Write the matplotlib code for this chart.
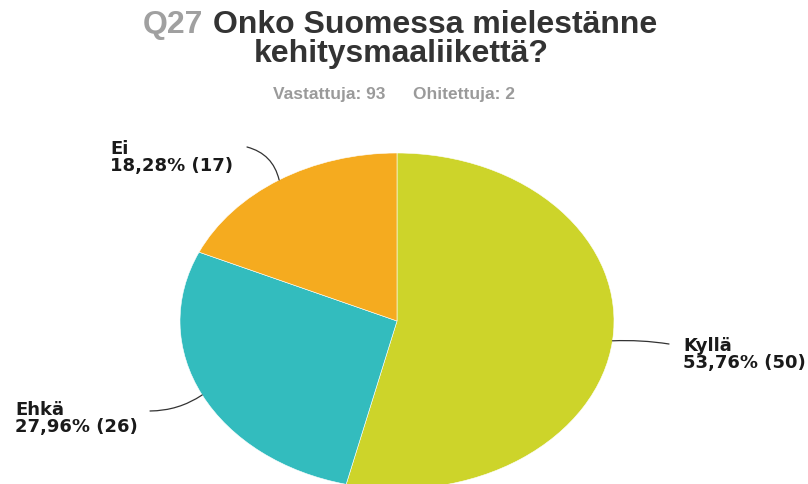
import matplotlib
matplotlib.use("Agg")
import matplotlib.pyplot as plt
import numpy as np

# survey answers
labels = ["Kyllä", "Ehkä", "Ei"]
counts = [50, 26, 17]
percents = ["53,76%", "27,96%", "18,28%"]
colors = ["#cdd42a", "#33bcbe", "#f5ab1f"]
answered = 93
skipped = 2

W, H = 808, 485
fig = plt.figure(figsize=(W / 100, H / 100), dpi=100)
ax = fig.add_axes([0, 0, 1, 1])

# pie is drawn stretched (ellipse) like the original
cx, cy, rx, ry = 397, 322, 217, 168

wedges, _ = ax.pie(
    counts,
    colors=colors,
    startangle=90,
    counterclock=False,
    wedgeprops=dict(edgecolor="white", linewidth=0.4),
)
ax.set_aspect("auto")
ax.set_xlim(-cx / rx, (W - cx) / rx)
ax.set_ylim(-(H - cy) / ry, cy / ry)
ax.axis("off")


def to_data(px, py):
    return (px - cx) / rx, (cy - py) / ry


def fx(px):
    return px / W


def fy(py):
    return 1 - py / H


# leader line ends and label boxes (pixel positions)
line_ends = [(669, 345), (150, 412), (247, 148)]
line_rads = [0.05, 0.15, -0.3]
text_pos = [(683, 337), (15, 401), (110, 140)]

for w, lab, pct, n, end, rad, tp in zip(
    wedges, labels, percents, counts, line_ends, line_rads, text_pos
):
    ang = np.deg2rad((w.theta1 + w.theta2) / 2)
    edge = (np.cos(ang), np.sin(ang))
    ax.annotate(
        "",
        xy=edge,
        xytext=to_data(*end),
        arrowprops=dict(
            arrowstyle="-",
            color="#333333",
            lw=0.9,
            shrinkA=0,
            shrinkB=0,
            connectionstyle=f"arc3,rad={rad}",
        ),
    )
    fig.text(
        fx(tp[0]),
        fy(tp[1]),
        f"{lab}\n{pct} ({n})",
        ha="left",
        va="top",
        fontsize=13,
        fontweight="bold",
        family="DejaVu Sans",
        color="#1a1a1a",
        linespacing=0.92,
    )

# title
title_font = dict(family="Liberation Sans", fontweight="bold", fontsize=23)
fig.text(fx(143), fy(33), "Q27", color="#a0a0a0", ha="left", va="baseline", **title_font)
fig.text(fx(213), fy(33), "Onko Suomessa mielestänne", color="#333333",
         ha="left", va="baseline", **title_font)
fig.text(fx(401), fy(62), "kehitysmaaliikettä?", color="#333333",
         ha="center", va="baseline", **title_font)

sub_font = dict(family="Liberation Sans", fontweight="bold", fontsize=12.5, color="#9a9a9a")
fig.text(fx(273), fy(99), f"Vastattuja: {answered}", ha="left", va="baseline", **sub_font)
fig.text(fx(413), fy(99), f"Ohitettuja: {skipped}", ha="left", va="baseline", **sub_font)

fig.savefig("out.png", dpi=100)
